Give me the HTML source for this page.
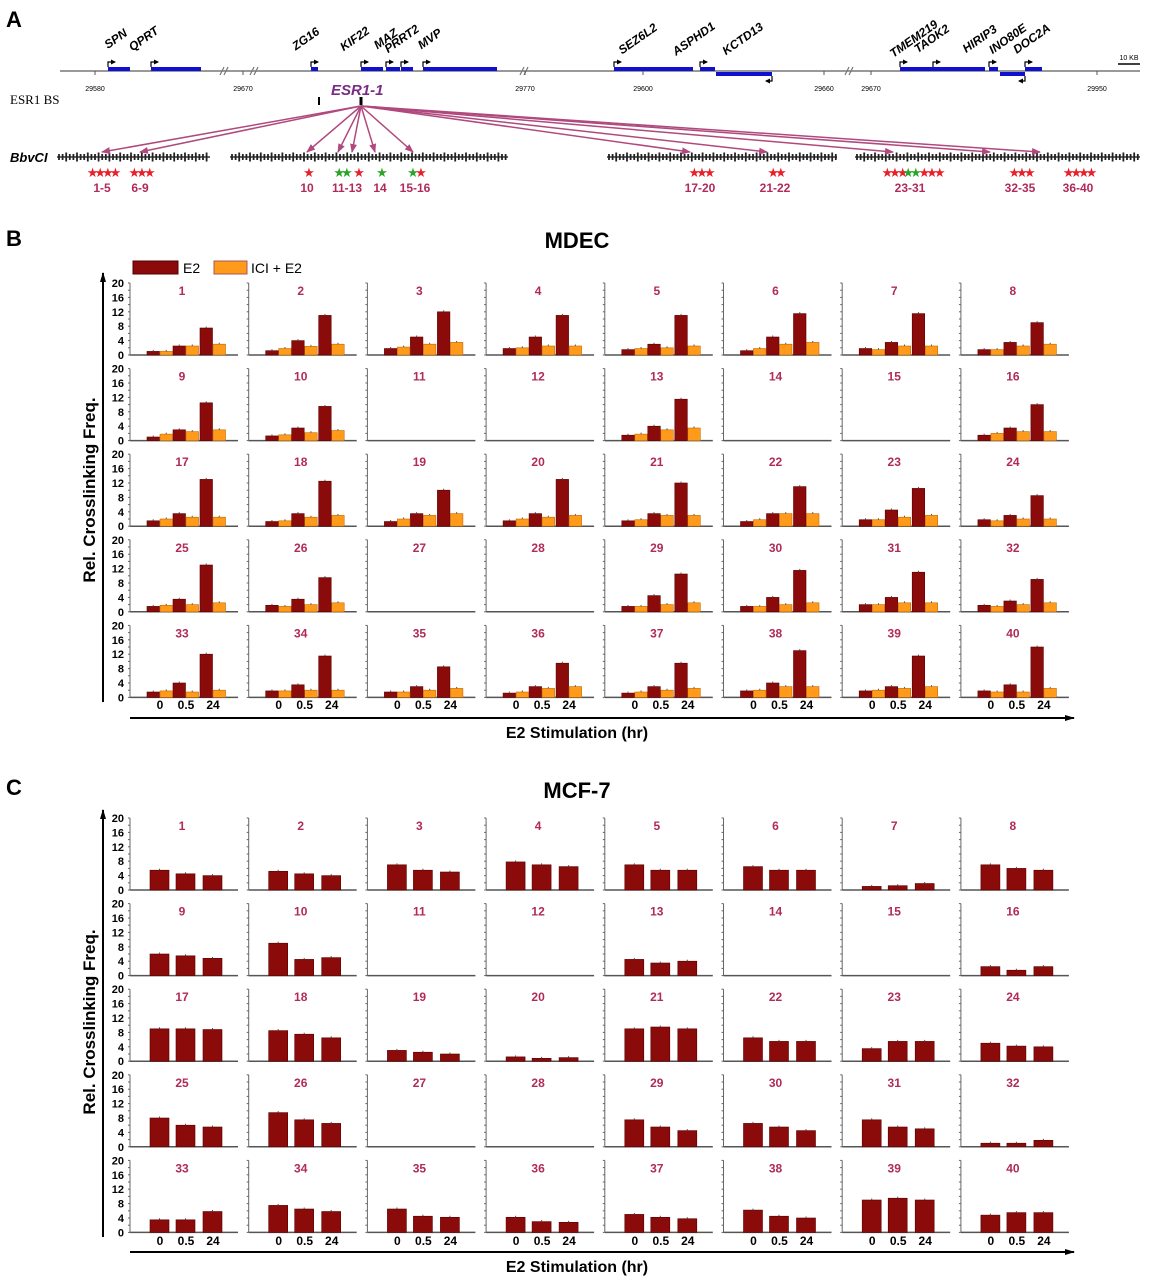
<!DOCTYPE html>
<html><head><meta charset="utf-8">
<style>
html,body{margin:0;padding:0;background:#fff;}
svg{display:block;font-family:"Liberation Sans",Arial,sans-serif;}
</style></head>
<body>
<svg id="fig" width="1153" height="1280" viewBox="0 0 1153 1280" xmlns="http://www.w3.org/2000/svg">
<defs>
<marker id="ah" markerUnits="userSpaceOnUse" markerWidth="9" markerHeight="9" refX="8" refY="4.5" orient="auto"><path d="M0,1 L9,4.5 L0,8 z" fill="#b0497e"/></marker>
<marker id="ak" markerUnits="userSpaceOnUse" markerWidth="10" markerHeight="8" refX="9" refY="4" orient="auto"><path d="M0,1 L10,4 L0,7 z" fill="#000"/></marker>
<marker id="ga" markerUnits="userSpaceOnUse" markerWidth="5" markerHeight="5" refX="4" refY="2.5" orient="auto"><path d="M0,0 L5,2.5 L0,5 z" fill="#000"/></marker>
</defs>
<text x="6" y="27" font-size="22" font-weight="bold">A</text>
<text x="6" y="246" font-size="22" font-weight="bold">B</text>
<text x="6" y="795" font-size="22" font-weight="bold">C</text>
<text x="577" y="248" font-size="22" font-weight="bold" text-anchor="middle">MDEC</text>
<text x="577" y="798" font-size="22" font-weight="bold" text-anchor="middle">MCF-7</text>
<g>
<rect x="133" y="261" width="45" height="13" fill="#8b0a0a" stroke="#500" stroke-width="1"/>
<text x="183" y="273" font-size="14">E2</text>
<rect x="214" y="261" width="33" height="13" fill="#ff9a1a" stroke="#a55" stroke-width="1"/>
<text x="251" y="273" font-size="14">ICI + E2</text>
</g>
<g id="genome"></g>
<g id="mdec"></g>
<g id="mcf"></g>
</svg>
<script>
// ---------- data ----------
var fragmentIds = [];
for (var k=1;k<=40;k++) fragmentIds.push(k);
var timeLabels = ["0","0.5","24"];
var yTicks = [0,4,8,12,16,20];
// MDEC E2 values at 0, 0.5, 24 hr (null = no data)
var mdecE2 = [
[1,2.5,7.5],[1.2,4,11],[1.8,5,12],[1.8,5,11],[1.5,3,11],[1.2,5,11.5],[1.8,3.5,11.5],[1.5,3.5,9],
[1,3,10.5],[1.3,3.5,9.5],null,null,[1.5,4,11.5],null,null,[1.5,3.5,10],
[1.5,3.5,13],[1.3,3.5,12.5],[1.3,3.5,10],[1.5,3.5,13],[1.5,3.5,12],[1.3,3.5,11],[1.8,4.5,10.5],[1.8,3,8.5],
[1.5,3.5,13],[1.8,3.5,9.5],null,null,[1.5,4.5,10.5],[1.5,4,11.5],[2,4,11],[1.8,3,9],
[1.5,4,12],[1.8,3.5,11.5],[1.5,3,8.5],[1.2,3,9.5],[1.2,3,9.5],[1.8,4,13],[1.8,3,11.5],[1.8,3.5,14]];
// MDEC ICI+E2 values
var mdecICI = [
[1,2.5,3],[1.8,2.4,3],[2.2,3,3.5],[2,2.5,2.5],[1.8,2,2.5],[1.8,3,3.5],[1.5,2.5,2.5],[1.5,2.5,3],
[1.8,2.5,3],[1.6,2.2,2.8],null,null,[1.8,3,3.5],null,null,[2,2.5,2.5],
[2,2.5,2.5],[1.5,2.5,3],[2,3,3.5],[2,2.5,3],[1.8,3,3],[1.8,3.5,3.5],[1.8,2.5,3],[1.5,2,2],
[1.8,2,2.5],[1.5,2,2.5],null,null,[1.5,2,2.5],[1.5,2,2.5],[2,2.5,2.5],[1.5,2,2.5],
[1.8,1.5,2],[1.8,2,2],[1.5,2,2.5],[1.5,2.5,3],[1.5,2,2.5],[2,3,3],[2,2.5,3],[1.5,1.5,2.5]];
// MCF-7 E2 values
var mcfE2 = [
[5.5,4.5,4],[5.2,4.5,4],[7,5.5,5],[7.8,7,6.5],[7,5.5,5.5],[6.5,5.5,5.5],[1,1.2,1.8],[7,6,5.5],
[6,5.5,4.8],[9,4.5,5],null,null,[4.5,3.5,4],null,null,[2.5,1.5,2.5],
[9,9,8.8],[8.5,7.5,6.5],[3,2.5,2],[1.2,0.8,1],[9,9.5,9],[6.5,5.5,5.5],[3.5,5.5,5.5],[5,4.2,4],
[8,6,5.5],[9.5,7.5,6.5],null,null,[7.5,5.5,4.5],[6.5,5.5,4.5],[7.5,5.5,5],[1,1,1.8],
[3.5,3.5,5.8],[7.5,6.5,5.8],[6.5,4.5,4.2],[4.2,3,2.8],[5,4.2,3.8],[6.2,4.5,4],[9,9.5,9],[4.8,5.5,5.5]];

var NS="http://www.w3.org/2000/svg";
function mk(tag, attrs, parent){var e=document.createElementNS(NS,tag);for(var a in attrs)e.setAttribute(a,attrs[a]);parent.appendChild(e);return e;}

// ---------- grids ----------
var colX0=130, colStep=118.7, rowStep=85.6, pxPerUnit=3.6, panelW=108;
function yScale(zeroY,v){return zeroY - v*pxPerUnit;}
function drawGrid(g, zero0, series, colors, barW, offs, xLabY){
  for (var i=0;i<40;i++){
    var c=i%8, r=Math.floor(i/8);
    var ax=colX0+c*colStep, zy=zero0+r*rowStep;
    var pg=mk('g',{},g);
    
    
    var yl=mk('line',{x1:ax,y1:zy,x2:ax,y2:yScale(zy,20),stroke:'#666','stroke-width':1},pg);
    
    
    for (var t=0;t<=20;t+=2){
      var tk=mk('line',{x1:ax-2,y1:yScale(zy,t),x2:ax,y2:yScale(zy,t),stroke:'#666','stroke-width':1},pg);
      
      
    }
    if (c===0){
      yTicks.forEach(function(tv){
        var tl=mk('text',{x:ax-6,y:yScale(zy,tv)+4,'font-size':11,'font-weight':'bold','text-anchor':'end'},pg);
        tl.textContent=tv;
        
        
      });
    }
    var xl=mk('line',{x1:ax,y1:zy,x2:ax+panelW,y2:zy,stroke:'#555','stroke-width':1.5},pg);
    
    
    var lab=mk('text',{x:ax+52,y:yScale(zy,20)+12,'font-size':12,'font-weight':'bold','fill':'#b02a5a','text-anchor':'middle'},pg);
    lab.textContent=fragmentIds[i];
    
    
    if (r===4){
      var centers=[30,56,83];
      timeLabels.forEach(function(tl2,j){
        var tt=mk('text',{x:ax+centers[j],y:xLabY,'font-size':12,'font-weight':'bold','text-anchor':'middle'},pg);
        tt.textContent=tl2;
        
        
      });
    }
    series.forEach(function(s,si){
      var vals=s[i]; if(!vals) return;
      vals.forEach(function(v,j){
        var x=ax+[30,56,83][j]+offs[si];
        var top=yScale(zy,v);
        var b=mk('rect',{x:x,y:top,width:barW,height:zy-top,fill:colors[si],stroke:colors[si]==='#8b0a0a'?'#5a0000':'#c46a00','stroke-width':0.6},pg);
        
        
        var eb=mk('line',{x1:x+barW/2,y1:top-1.5,x2:x+barW/2,y2:top,stroke:'#555','stroke-width':1},pg);
        
        
      });
    });
  }
}
drawGrid(document.getElementById('mdec'),355,[mdecE2,mdecICI],['#8b0a0a','#ff9a1a'],12.5,[-13,0],709);
drawGrid(document.getElementById('mcf'),890,[mcfE2],['#8b0a0a'],19,[-10],1245);

// axes & titles for grids
function bigAxes(g, yBottom, yTop, xY, titleY, yTitleC){
  var a1=mk('line',{x1:103,y1:yBottom,x2:103,y2:yTop,stroke:'#000','stroke-width':2,'marker-end':'url(#ak)'},g);
  
  
  var a2=mk('line',{x1:130,y1:xY,x2:1074,y2:xY,stroke:'#000','stroke-width':2,'marker-end':'url(#ak)'},g);
  
  
  var t1=mk('text',{x:577,y:titleY,'font-size':16,'font-weight':'bold','text-anchor':'middle'},g);
  t1.textContent='E2 Stimulation (hr)';
  
  
  var t2=mk('text',{x:0,y:0,'font-size':17,'font-weight':'bold','text-anchor':'middle',transform:'translate(95,'+yTitleC+') rotate(-90)'},g);
  t2.textContent='Rel. Crosslinking Freq.';
  
  
}
bigAxes(document.getElementById('mdec'),702,273,718,738,490);
bigAxes(document.getElementById('mcf'),1237,810,1252,1272,1022);

// ---------- panel A genome ----------
var gg=document.getElementById('genome');
var genes=[["SPN",108,130,0],["QPRT",151,201,0],["ZG16",311,318,0],["KIF22",361,383,0],["MAZ",386,400,0],["PRRT2",401,413,0],["MVP",423,497,0],
["SEZ6L2",614,693,0],["ASPHD1",700,715,0],["KCTD13",716,772,1],["TMEM219",900,933,0],["TAOK2",933,985,0],["HIRIP3",989,998,0],["INO80E",1000,1025,1],["DOC2A",1025,1042,0]];
var gl=mk('line',{x1:60,y1:71,x2:1140,y2:71,stroke:'#999','stroke-width':2},gg);


var labelX={SPN:118,QPRT:146,ZG16:308,KIF22:357,MAZ:388,PRRT2:404,MVP:432,SEZ6L2:640,ASPHD1:696,KCTD13:745,TMEM219:916,TAOK2:934,HIRIP3:982,INO80E:1010,DOC2A:1034};
genes.forEach(function(g){
  var y=g[3]?72:67;
  var r=mk('rect',{x:g[1],y:y,width:g[2]-g[1],height:4,fill:'#1010d0'},gg);
  
  
  var ar=mk('path',{d:g[3]?'M'+g[2]+',76 v5 h-6':'M'+g[1]+',67 v-5 h7',fill:'none',stroke:'#000','stroke-width':1.2,'marker-end':'url(#ga)'},gg);
  
  
  var t=mk('text',{x:0,y:0,'font-size':12,'font-weight':'bold','font-style':'italic','text-anchor':'middle',transform:'translate('+labelX[g[0]]+',42) rotate(-35)'},gg);
  t.textContent=g[0];
  
  
});
[[223,"break"],[253,"break"],[523,"break"],[848,"break"]].forEach(function(b){
  var p=mk('path',{d:'M'+(b[0]-3)+',75 l4,-8 M'+(b[0]+1)+',75 l4,-8',stroke:'#777','stroke-width':1.2},gg);
  
  
});
[["29580",95],["29670",243],["29770",525],["29600",643],["29660",824],["29670",871],["29950",1097]].forEach(function(c){
  var t=mk('text',{x:c[1],y:91,'font-size':7,'text-anchor':'middle'},gg);
  t.textContent=c[0];
  
  
  var tk=mk('line',{x1:c[1],y1:71,x2:c[1],y2:75,stroke:'#555'},gg);
  
  
});
var sb=mk('line',{x1:1118,y1:64,x2:1140,y2:64,stroke:'#000','stroke-width':1.5},gg);


var sbt=mk('text',{x:1129,y:60,'font-size':7,'text-anchor':'middle'},gg);
sbt.textContent='10 KB';


var bs=mk('text',{x:10,y:104,'font-size':13,'font-family':'Liberation Serif,serif'},gg);
bs.textContent='ESR1 BS';


var el=mk('text',{x:331,y:95,'font-size':15,'font-weight':'bold','font-style':'italic',fill:'#7a2b86'},gg);
el.textContent='ESR1-1';


[[319,2],[361,3]].forEach(function(m){
  var r=mk('rect',{x:m[0]-m[1]/2,y:97,width:m[1],height:8,fill:'#000'},gg);
  
  
});
var bb=mk('text',{x:10,y:162,'font-size':13,'font-weight':'bold','font-style':'italic'},gg);
bb.textContent='BbvCI';


[[57,210],[230,508],[607,837],[855,1140]].forEach(function(s){
  var l=mk('line',{x1:s[0],y1:157,x2:s[1],y2:157,stroke:'#333','stroke-width':1.5},gg);
  
  
  var n=0;
  for (var x=s[0]+2;x<s[1];x+=3.6){
    n++;
    var h=(n%3===0)?9:6;
    var tk=mk('line',{x1:x,y1:157-h/2,x2:x,y2:157+h/2,stroke:'#222','stroke-width':1.8},gg);
    
    
  }
});
var arrowTargets=[102,140,307,338,352,375,413,690,767,893,990,1040];
arrowTargets.forEach(function(x){
  var a=mk('line',{x1:361,y1:106,x2:x,y2:152,stroke:'#b0497e','stroke-width':1.5,'marker-end':'url(#ah)'},gg);
  
  
});
var starGroups=[["★★★★",102,"#e8202a"],["★★★",140,"#e8202a"],["★",307,"#e8202a"],["★★",341,"#2aa52a"],["★",357,"#e8202a"],["★",380,"#2aa52a"],["★",411,"#2aa52a"],["★",419,"#e8202a"],
["★★★",700,"#e8202a"],["★★",775,"#e8202a"],["★★★",893,"#e8202a"],["★★",910,"#2aa52a"],["★★★",930,"#e8202a"],["★★★",1020,"#e8202a"],["★★★★",1078,"#e8202a"]];
starGroups.forEach(function(s){
  var t=mk('text',{x:s[1],y:177,'font-size':13,fill:s[2],'text-anchor':'middle','letter-spacing':'-4','font-family':'DejaVu Sans,sans-serif'},gg);
  t.textContent=s[0];
  
  
});
var rangeLabels=[["1-5",102],["6-9",140],["10",307],["11-13",347],["14",380],["15-16",415],["17-20",700],["21-22",775],["23-31",910],["32-35",1020],["36-40",1078]];
rangeLabels.forEach(function(s){
  var t=mk('text',{x:s[1],y:192,'font-size':12,'font-weight':'bold',fill:'#b02a5a','text-anchor':'middle'},gg);
  t.textContent=s[0];
  
  
});
</script>
</body></html>
